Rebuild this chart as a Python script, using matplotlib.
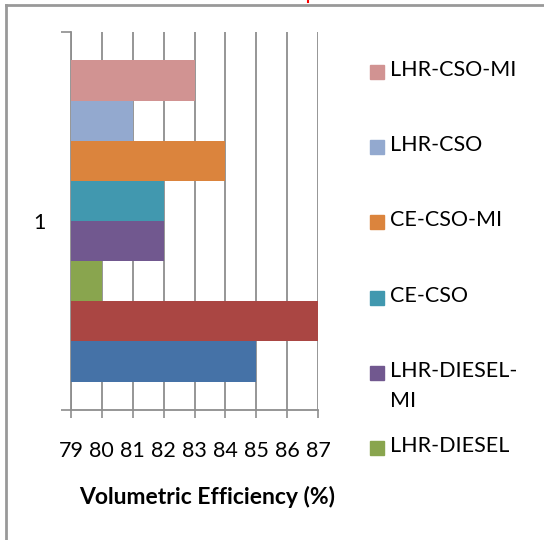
import matplotlib
matplotlib.use("Agg")
import matplotlib.pyplot as plt
from matplotlib.lines import Line2D
from matplotlib.patches import Rectangle

plt.rcParams['font.family'] = ['Lato', 'DejaVu Sans']

# Data (bottom bar first)
series = ["CE-DIESEL", "CE-DIESEL-MI", "LHR-DIESEL", "LHR-DIESEL-MI",
          "CE-CSO", "CE-CSO-MI", "LHR-CSO", "LHR-CSO-MI"]
values = [85, 87, 80, 82, 82, 84, 81, 83]
colors = ["#4572A7", "#AA4643", "#89A54E", "#71588F",
          "#4198AF", "#DB843D", "#93A9CF", "#D19392"]
legend_labels = ["LHR-CSO-MI", "LHR-CSO", "CE-CSO-MI", "CE-CSO",
                 "LHR-DIESEL-\nMI", "LHR-DIESEL"]
legend_colors = ["#D19392", "#93A9CF", "#DB843D", "#4198AF", "#71588F", "#89A54E"]
xticks = [79, 80, 81, 82, 83, 84, 85, 86, 87]
category = "1"

W, H = 544, 540
fig = plt.figure(figsize=(W / 100, H / 100), dpi=100)
ax = fig.add_axes([71 / W, 1 - 410 / H, (318 - 71) / W, (410 - 32) / H])

n = len(values)
group = 0.85
bh = group / n
for i, (v, c) in enumerate(zip(values, colors)):
    y = -group / 2 + bh / 2 + i * bh
    ax.barh(y, v, height=bh, color=c, edgecolor='none', zorder=3)

fs = 15.5
ax.set_xlim(79, 87)
ax.set_ylim(-0.5, 0.5)
grid_c = '#8e8e8e'
ax.set_xticks(xticks)
ax.set_xticklabels([str(t) for t in xticks], fontsize=fs)
ax.tick_params(axis='x', length=6, width=1.2, color=grid_c, pad=16)
ax.grid(axis='x', color=grid_c, lw=1.3, zorder=1)
ax.set_yticks([-0.5, 0.5])
ax.set_yticklabels(['', ''])
ax.tick_params(axis='y', which='major', length=7, width=1.2, color=grid_c)
ax.set_yticks([0], minor=True)
ax.set_yticklabels([category], minor=True, fontsize=fs)
ax.tick_params(axis='y', which='minor', length=0, pad=18)
for s in ['top', 'right']:
    ax.spines[s].set_visible(False)
for s in ['left', 'bottom']:
    ax.spines[s].set_color(grid_c)
    ax.spines[s].set_linewidth(1.3)

fig.text(207 / W, 1 - 497 / H, "Volumetric Efficiency (%)", fontsize=16.5,
         fontweight='bold', ha='center', va='center')

# legend
y0, dy = 72, 75.2
for k, (lab, c) in enumerate(zip(legend_labels, legend_colors)):
    yc = y0 + k * dy
    fig.patches.append(Rectangle((370 / W, 1 - (yc + 7) / H), 14 / W, 14 / H,
                                 transform=fig.transFigure, color=c))
    fig.text(390 / W, 1 - (yc - 12) / H, lab, fontsize=fs, ha='left', va='top',
             linespacing=1.65)

# frame
fig.add_artist(Line2D([6 / W, 1], [1 - 5 / H, 1 - 5 / H], color='#999999', lw=2,
                      transform=fig.transFigure))
fig.add_artist(Line2D([6 / W, 6 / W], [0, 1 - 5 / H], color='#999999', lw=2,
                      transform=fig.transFigure))
fig.add_artist(Line2D([308 / W, 308 / W], [1, 1 - 2 / H], color='red', lw=1.5,
                      transform=fig.transFigure))

fig.savefig("out.png", dpi=100)
